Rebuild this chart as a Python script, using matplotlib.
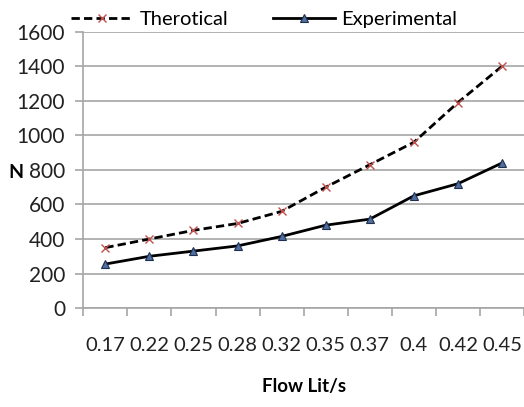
import matplotlib
matplotlib.use("Agg")
import matplotlib.pyplot as plt
import numpy as np

flow = ["0.17", "0.22", "0.25", "0.28", "0.32", "0.35", "0.37", "0.4", "0.42", "0.45"]
theoretical = [350, 400, 450, 490, 560, 700, 830, 960, 1190, 1400]
experimental = [255, 300, 330, 360, 415, 480, 515, 650, 720, 840]

plt.rcParams['font.family'] = ['Lato', 'DejaVu Sans']
fig = plt.figure(figsize=(5.24, 4.07), dpi=100)
ax = fig.add_axes([0.159, 0.243, 0.841, 0.679])

x = np.arange(len(flow))
ax.plot(x, theoretical, color='black', linestyle=(0, (3, 1.5)), linewidth=2,
        marker='x', markersize=6, markeredgecolor='#c0504d', markeredgewidth=1,
        label='Therotical', zorder=3)
ax.plot(x, experimental, color='black', linestyle='-', linewidth=2,
        marker='^', markersize=6, markerfacecolor='#4f6fa0', markeredgecolor='#1f2f4f',
        markeredgewidth=0.8, label='Experimental', zorder=3)

ax.set_xlim(-0.5, len(flow) - 0.5)
ax.set_ylim(0, 1600)
ax.set_yticks(np.arange(0, 1601, 200))
ax.yaxis.grid(True, color='#a6a6a6', linewidth=1.2)
ax.set_axisbelow(True)
for s in ['top', 'right']:
    ax.spines[s].set_visible(False)
for s in ['left', 'bottom']:
    ax.spines[s].set_color('#a6a6a6')
    ax.spines[s].set_linewidth(1.2)

ax.set_xticks(x)
ax.set_xticklabels(flow)
ax.set_xticks(np.arange(-0.5, len(flow), 1.0), minor=True)
ax.tick_params(axis='x', which='major', length=0, pad=21, labelsize=14.5, colors='#222222')
ax.tick_params(axis='x', which='minor', length=6, color='#a6a6a6', width=1.2)
ax.tick_params(axis='y', length=6, pad=7, color='#a6a6a6', width=1.2, labelsize=15, labelcolor='#222222')

ax.set_xlabel('Flow Lit/s', fontsize=13.5, fontweight='bold', labelpad=17)
ax.set_ylabel('N', fontsize=14, fontweight='bold', rotation=0, va='center', ha='center')
ax.yaxis.set_label_coords(-0.152, 0.49)

leg = ax.legend(loc='lower center', bbox_to_anchor=(0.41, 0.985), ncol=2, frameon=False,
                fontsize=14.5, handlelength=3.1, columnspacing=2.2, handletextpad=0.3,
                borderaxespad=0)

fig.savefig('out.png', dpi=100)
